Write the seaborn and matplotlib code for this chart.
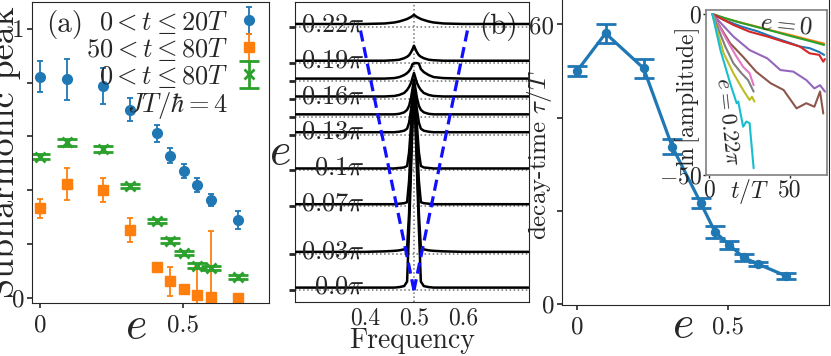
import numpy as np
import matplotlib
matplotlib.use("Agg")
import matplotlib.pyplot as plt
import seaborn as sns

sns.set_style("ticks")
plt.rcParams["font.family"] = "serif"
plt.rcParams["font.serif"] = ["cmr10"]
plt.rcParams["mathtext.fontset"] = "cm"
plt.rcParams["axes.formatter.use_mathtext"] = True
plt.rcParams["axes.edgecolor"] = "0.15"

# disorder strength e, in units of pi
e_over_pi = [0, 0.03, 0.07, 0.1, 0.13, 0.145, 0.16, 0.175, 0.19, 0.22]
e_labels = ["0.0", "0.03", "0.07", "0.1", "0.13", "", "0.16", "", "0.19", "0.22"]

# (a) subharmonic peak
peak_early = [0.823, 0.813, 0.788, 0.699, 0.612, 0.528, 0.471, 0.419, 0.363, 0.290]
err_early = [0.056, 0.076, 0.066, 0.043, 0.032, 0.028, 0.025, 0.026, 0.022, 0.034]
peak_late = [0.333, 0.423, 0.401, 0.253, 0.116, 0.061, 0.032, 0.010, 0.005, 0.001]
err_late = [0.036, 0.059, 0.043, 0.045, 0.004, 0.053, 0.004, 0.106, 0.245, 0.0]
peak_all = [0.525, 0.578, 0.554, 0.416, 0.287, 0.213, 0.168, 0.120, 0.110, 0.077]
err_all = [0.010, 0.012, 0.010, 0.008, 0.008, 0.008, 0.008, 0.008, 0.008, 0.008]

# (b) spectra, one row per e value (arbitrary amplitude units)
spec_freq = [0.26, 0.40, 0.44, 0.46, 0.47, 0.48, 0.486, 0.49, 0.494, 0.497, 0.5,
             0.503, 0.506, 0.51, 0.514, 0.52, 0.53, 0.54, 0.56, 0.60, 0.735]
spec_rows = [
    [2, 2, 2, 2, 2.5, 3.5, 8, 60, 120, 165, 197, 165, 120, 60, 8, 3.5, 2.5, 2, 2, 2, 2],
    [2, 2, 2.5, 3, 3.5, 4.5, 6, 40, 95, 135, 164, 135, 95, 40, 6, 4.5, 3.5, 3, 2.5, 2, 2],
    [2, 2, 2, 2, 2.5, 3, 4, 25, 65, 95, 118, 95, 65, 25, 4, 3, 2.5, 2, 2, 2, 2],
    [2, 2, 2, 2, 2.5, 3, 4.5, 18, 45, 65, 82, 65, 45, 18, 4.5, 3, 2.5, 2, 2, 2, 2],
    [2.5, 2.5, 2.5, 2.5, 3, 4, 6, 12, 25, 38, 50, 38, 25, 12, 6, 4, 3, 2.5, 2.5, 2.5, 2.5],
    [2.5, 2.5, 2.5, 2.5, 3, 4.5, 7, 11, 19, 28, 37, 28, 19, 11, 7, 4.5, 3, 2.5, 2.5, 2.5, 2.5],
    [2.5, 2.5, 2.5, 3, 4, 6, 9, 12, 16, 21, 26, 21, 16, 12, 9, 6, 4, 3, 2.5, 2.5, 2.5],
    [2.5, 2.5, 2.5, 3, 4, 6, 8, 10, 13, 17, 17.5, 18, 18, 17.5, 12, 9, 6, 4, 3, 2.5, 2.5],
    [2.5, 2.5, 2.5, 3, 3.5, 5, 6.5, 8, 11, 14, 17.5, 14, 11, 8, 6.5, 5, 3.5, 3, 2.5, 2.5, 2.5],
    [3.5, 3.5, 4, 5, 6, 7.5, 8.5, 9.5, 10.5, 11.5, 12.7, 11.5, 10.5, 9.5, 8.5, 7.5, 6, 5, 4, 3.5, 3.5],
]

# (c) decay time
decay_time = [50.0, 58.1, 50.6, 33.8, 21.7, 15.5, 12.7, 10.0, 8.6, 6.0]
decay_err = [1.1, 2.0, 2.0, 1.6, 1.1, 1.3, 0.8, 0.8, 0.5, 0.65]

# inset: ln amplitude vs t/T, one curve per e value
inset_t = [
    [2, 10, 20, 30, 40, 50, 56, 62, 68, 71],
    [2, 10, 20, 30, 40, 50, 60, 71],
    [2, 10, 20, 30, 40, 50, 60, 71],
    [2, 15, 25, 36, 46, 56, 62, 68, 70.5, 71.5],
    [2, 15, 25, 36, 44, 52, 60, 65, 68.5, 71.5],
    [2, 13, 21, 29, 38, 46, 54, 60, 65, 68.5, 70.5],
    [2, 11, 17, 21, 25, 27.5],
    [2, 10, 15, 20, 24, 27.5],
    [2, 9, 15, 21, 25, 26.5, 28],
    [2, 7, 13, 17, 18, 21, 23, 25, 27.5],
]
inset_y = [
    [0, -2.0, -3.9, -5.4, -7.3, -9.0, -10.1, -10.6, -11.8, -12.7],
    [0, -1.4, -2.7, -4.0, -5.3, -6.5, -7.8, -9.2],
    [0, -1.3, -2.8, -4.1, -5.4, -6.8, -8.1, -9.6],
    [0, -3.4, -5.5, -7.0, -8.6, -10.1, -12.2, -12.7, -14.8, -14.0],
    [0, -7.0, -11.2, -13.8, -17.4, -17.9, -20.5, -23.1, -22.1, -24.1],
    [0, -9.1, -13.3, -17.9, -21.5, -23.6, -29.3, -27.7, -28.8, -24.1, -30.9],
    [0, -8.1, -13.3, -16.4, -18.4, -22.1],
    [0, -10.1, -15.3, -18.4, -20.5, -24.1],
    [0, -12.2, -18.4, -23.6, -26.7, -25.7, -27.2],
    [0, -11.2, -21.5, -27.7, -27.2, -35.0, -33.4, -33.9, -47.9],
]

pal = sns.color_palette("tab10")
e = np.pi * np.array(e_over_pi)

fig = plt.figure(figsize=(8.31, 3.56), dpi=100)
ax_a = fig.add_axes([0.0385, 0.1489, 0.2852, 0.8455])
ax_b = fig.add_axes([0.355, 0.1517, 0.2816, 0.8427])
ax_c = fig.add_axes([0.6763, 0.1433, 0.3213, 0.8600])
ax_in = fig.add_axes([0.8496, 0.5084, 0.1456, 0.4635])

tick_kw = dict(direction="out", length=3.5, width=1.2, labelsize=18, pad=2)

# ---- (a)
h1 = ax_a.errorbar(e, peak_early, yerr=err_early, fmt="o", color=pal[0], ms=7,
                   capsize=2.5, elinewidth=1.3, capthick=1.3)
h2 = ax_a.errorbar(e, peak_late, yerr=err_late, fmt="s", color=pal[1], ms=7,
                   capsize=2.5, elinewidth=1.3, capthick=1.3)
h3 = ax_a.errorbar(e, peak_all, yerr=err_all, fmt="x", color=pal[2], ms=7, mew=2,
                   capsize=7, elinewidth=2, capthick=2)
h4, = ax_a.plot([], [], " ")
ax_a.legend([h1, h2, h3, h4],
            [r"$0<t\leq 20T$", r"$50<t\leq 80T$", r"$0<t\leq 80T$", r"$JT/\hbar=4$"],
            loc="upper right", markerfirst=False, frameon=False, fontsize=19,
            handlelength=1.0, handletextpad=0.3, labelspacing=0.0,
            borderpad=0.1, borderaxespad=0.15)
ax_a.text(0.06, 0.975, "(a)", transform=ax_a.transAxes, ha="left", va="top", fontsize=21)
ax_a.set_xlim(-0.028, 0.80)
ax_a.set_ylim(-0.019, 1.10)
ax_a.set_yticks([0, 0.2, 0.4, 0.6, 0.8, 1.0])
ax_a.set_yticklabels(["0", "", "", "", "", "1"])
ax_a.set_xticks([0, 0.5])
ax_a.set_xticklabels(["0", "0.5"])
ax_a.tick_params(**tick_kw)
ax_a.tick_params(axis="x", pad=5)
ax_a.set_ylabel("Subharmonic peak", fontsize=26)
ax_a.yaxis.set_label_coords(-0.048, 0.5)
ax_a.set_xlabel("$e$", fontsize=33, va="center")
ax_a.xaxis.set_label_coords(0.44, -0.076)

# ---- (b)
amp_scale = 1 / 1190
for i in range(len(e_over_pi) - 1, -1, -1):
    base = e_over_pi[i]
    yy = base + amp_scale * np.array(spec_rows[i])
    ax_b.plot(spec_freq, yy, color="black", lw=1.8, zorder=3 + (10 - i) * 0.01)
    if e_labels[i]:
        ax_b.text(0.40, base - 0.0035, e_labels[i] + r"$\pi$", ha="right", va="baseline",
                  fontsize=19, zorder=5)
ax_b.set_yticks(e_over_pi)
ax_b.set_yticklabels([])
ax_b.grid(axis="y", ls=":", color="0.45", lw=1.1)
ax_b.axvline(0.5, ls=":", color="0.45", lw=1.1, zorder=1)
top = max(e_over_pi)
ax_b.plot([0.5, 0.5 - top / 2], [-0.0005, top], ls="--", color="#1010ff", lw=2.3, dashes=(3.5, 1.8), zorder=6)
ax_b.plot([0.5, 0.5 + top / 2], [-0.0005, top], ls="--", color="#1010ff", lw=2.3, dashes=(3.5, 1.8), zorder=6)
ax_b.set_xlim(0.258, 0.734)
ax_b.set_ylim(-0.0104, 0.2414)
ax_b.set_xticks([0.4, 0.5, 0.6])
ax_b.set_xticklabels(["0.4", "0.5", "0.6"])
ax_b.tick_params(axis="y", direction="out", length=4, width=2, pad=2)
ax_b.tick_params(axis="x", length=0, labelsize=17, pad=4)
ax_b.set_xlabel("Frequency", fontsize=20, va="top")
ax_b.xaxis.set_label_coords(0.5, -0.086)
ax_b.set_ylabel("$e$", fontsize=33, rotation=0, va="center", ha="center")
ax_b.yaxis.set_label_coords(-0.065, 0.5)
ax_b.text(0.95, 0.965, "(b)", transform=ax_b.transAxes, ha="right", va="top", fontsize=21)

# ---- (c)
sns.lineplot(x=e, y=decay_time, ax=ax_c, color=pal[0], lw=2.3, marker="o", ms=6,
             mec=pal[0], sort=False)
ax_c.errorbar(e, decay_time, yerr=decay_err, fmt="none", ecolor=pal[0],
              capsize=7, elinewidth=2, capthick=2)
ax_c.set_xlim(-0.0495, 0.832)
ax_c.set_ylim(-0.2, 65.5)
ax_c.set_yticks([0, 20, 40, 60])
ax_c.set_yticklabels(["0", "", "", "60"])
ax_c.set_xticks([0, 0.5])
ax_c.set_xticklabels(["0", "0.5"])
ax_c.tick_params(**tick_kw)
ax_c.tick_params(axis="x", pad=5)
ax_c.set_ylabel(r"decay-time $\tau/T$", fontsize=18)
ax_c.yaxis.set_label_coords(-0.03, 0.49)
ax_c.set_xlabel("$e$", fontsize=33, va="center")
ax_c.xaxis.set_label_coords(0.453, -0.066)

# ---- inset
for i in range(len(inset_t)):
    sns.lineplot(x=inset_t[i], y=inset_y[i], ax=ax_in, color=pal[i], lw=1.5, sort=False)
ax_in.set_xlim(-1.9, 72.8)
ax_in.set_ylim(-50, 1.24)
ax_in.set_xticks([0, 50])
ax_in.set_xticklabels(["0", "50"])
ax_in.set_yticks([0, -50])
ax_in.set_yticklabels(["$0$", "$-50$"])
ax_in.tick_params(direction="out", length=2, width=1, labelsize=17, pad=1)
for s in ax_in.spines.values():
    s.set_color("0.5")
    s.set_linewidth(1.2)
ax_in.set_ylabel(r"$\ln$[amplitude]", fontsize=17)
ax_in.yaxis.set_label_coords(-0.03, 0.47)
ax_in.set_xlabel("$t/T$", fontsize=17)
ax_in.xaxis.set_label_coords(0.36, -0.01)
ax_in.text(47.5, -3.4, "$e=0$", fontsize=18, rotation=-6, ha="center", va="center")
ax_in.text(11.5, -33.5, r"$e=0.22\pi$", fontsize=16, rotation=-84, ha="center", va="center")

fig.savefig("out.png", dpi=100, facecolor="white")
